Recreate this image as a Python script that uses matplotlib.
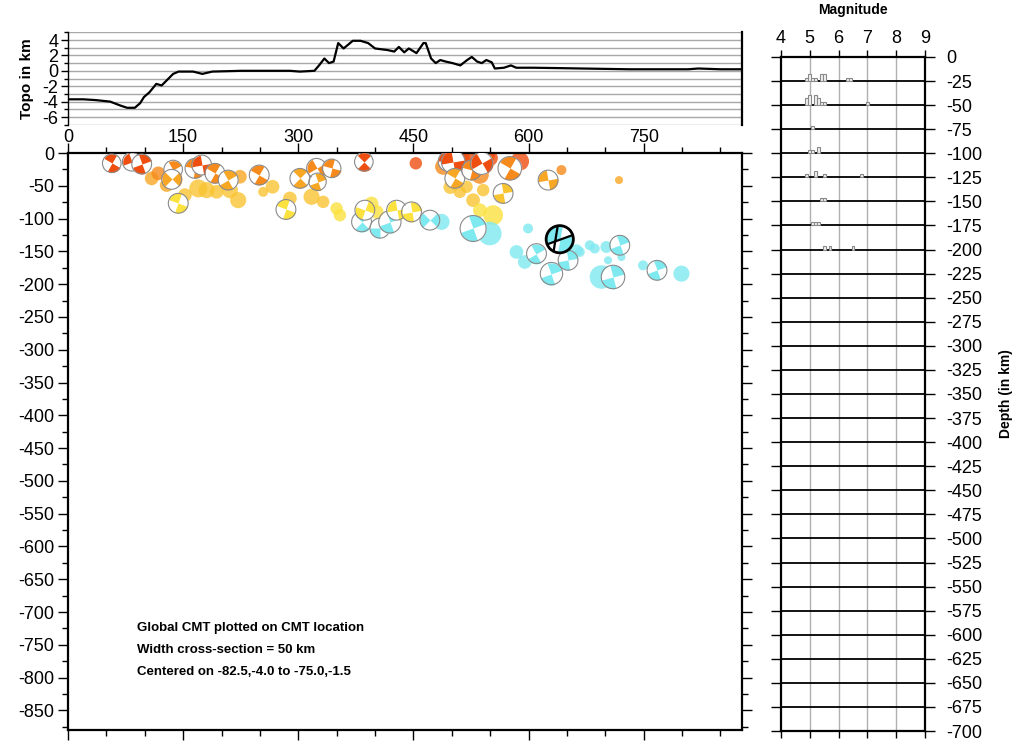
import numpy as np
import matplotlib
matplotlib.use('Agg')
import matplotlib.pyplot as plt
from matplotlib.path import Path
from matplotlib.ticker import MultipleLocator

plt.rcParams['font.family'] = ['Liberation Sans', 'DejaVu Sans']
plt.rcParams['axes.unicode_minus'] = False

# topography along the profile (km, km)
topo_x = [0, 20, 36, 55, 68, 77, 87, 94, 99, 106, 115, 122, 125, 131, 137, 144,
          163, 175, 188, 226, 260, 289, 302, 321, 327, 334, 340, 346, 352, 359,
          365, 371, 381, 391, 400, 408, 416, 425, 431, 438, 444, 454, 463, 466,
          473, 479, 485, 492, 501, 511, 520, 526, 533, 539, 545, 552, 556, 568,
          577, 584, 606, 640, 669, 700, 732, 770, 808, 821, 850, 878]
topo_z = [-3.7, -3.7, -3.8, -4.0, -4.5, -4.8, -4.8, -4.2, -3.4, -2.8, -1.7, -1.9,
          -1.6, -1.0, -0.4, -0.1, -0.1, -0.4, -0.1, 0.0, 0.0, 0.0, -0.1, 0.0,
          0.7, 1.6, 1.0, 1.2, 3.6, 2.9, 3.4, 3.9, 3.9, 3.6, 2.9, 2.8, 2.7, 2.5,
          3.1, 2.4, 2.9, 2.3, 3.6, 3.6, 1.6, 1.0, 1.4, 1.2, 1.0, 0.7, 1.4, 1.8,
          1.2, 1.0, 1.4, 1.1, 0.3, 0.4, 0.7, 0.4, 0.4, 0.35, 0.3, 0.25, 0.2, 0.2,
          0.2, 0.3, 0.2, 0.2]

# focal mechanisms: distance (km), depth (km), magnitude, nodal rotation (deg)
cmt_x = [57, 83, 96, 137, 135, 143.6, 165.4, 174.1, 191.4, 208.7, 249.1, 302.1,
         323.8, 343.4, 325.1, 385.4, 283.9, 382.4, 386.7, 406.3, 419.3, 428,
         447.5, 471.4, 495.2, 501.7, 503.9, 525.7, 538.7, 575.5, 566.8, 625.4,
         527.7, 610.3, 629.8, 651.4, 718.8, 710, 767.3]
cmt_depth = [15.7, 13.3, 16.8, 25.2, 40.2, 76.7, 23.4, 18.3, 31, 41.3, 33.6, 38.7,
             23.4, 23.4, 43.9, 13.3, 86.1, 105, 87.2, 114.7, 105, 87.2, 89.8,
             102.4, 12.7, 13.3, 38.7, 26, 15.7, 23.4, 61.6, 41.3, 115.1, 153.4,
             183.9, 163.6, 140.7, 189.1, 178.9]
cmt_mag = [5.0, 5.0, 5.1, 5.0, 5.1, 5.1, 5.1, 5.1, 5.1, 5.1, 5.1, 5.1, 5.1, 5.0,
           4.9, 5.0, 5.1, 5.1, 5.1, 5.1, 5.3, 5.1, 5.1, 5.1, 5.1, 5.4, 5.1, 5.1,
           5.3, 5.4, 5.1, 5.1, 5.6, 5.1, 5.3, 5.1, 5.1, 5.4, 5.1]
cmt_rot = [60, 110, 20, 30, 135, 70, 80, 100, 60, 30, 60, 45, 120, 75, 20, 45,
           70, 45, 160, 0, 20, 100, 10, 135, 90, 100, 60, 75, 120, 60, 10, 100,
           20, 30, 20, 10, 20, 15, 20]

# events without mechanism
ev_x = [109, 117.6, 128.5, 169.7, 180.6, 193.6, 210.9, 221.7, 224, 254.3, 266.5,
        152.3, 289, 317.3, 332.4, 349.9, 354.2, 395.4, 402, 453.1, 488.7, 510.4,
        527.7, 536.5, 553.8, 540.8, 519.1, 642.8, 717.8, 432.3, 486.6, 549.5,
        599.3, 584.2, 595, 666.7, 679.7, 686.2, 701.4, 703.5, 721, 694.9, 749.1,
        799.1, 662.4, 514.7, 549.5, 588.5, 536.5, 523.4, 545, 498]
ev_depth = [38.7, 31, 48.9, 54, 56.6, 59.2, 56.6, 71.9, 36.2, 59.2, 51.5, 64.2,
            69.3, 66.8, 74.5, 84.6, 94.8, 76.9, 89.8, 15.7, 20.9, 59.2, 71.9,
            87.2, 94.8, 56.6, 51.5, 26, 41.3, 89.8, 105, 122.8, 115.1, 150.9,
            166.2, 150.9, 140.7, 145.7, 143.3, 163.6, 158.6, 189.1, 171.3, 184,
            148.3, 7.6, 7.6, 12.7, 33.2, 3, 3, 52]
ev_mag = [4.6, 4.6, 4.6, 4.95, 4.8, 4.6, 4.8, 4.8, 4.6, 4.3, 4.6, 4.6, 4.6, 4.8,
          4.5, 4.5, 4.5, 4.6, 4.6, 4.5, 4.8, 4.5, 4.6, 4.6, 5.1, 4.5, 4.5, 4.3,
          4.14, 4.8, 4.8, 5.4, 4.3, 4.6, 4.6, 4.3, 4.3, 4.3, 4.46, 4.14, 4.14,
          5.4, 4.3, 4.8, 4.46, 4.6, 4.8, 5.0, 4.95, 4.9, 4.9, 4.6]

# highlighted mechanism
big_x, big_depth, big_mag = 640.6, 131.5, 5.7

# magnitude histogram per 25 km depth bin
hist_bin = [-25, -25, -25, -25, -25, -25, -25, -25,
            -50, -50, -50, -50, -50, -50, -50,
            -75,
            -100, -100, -100,
            -125, -125, -125, -125,
            -150, -150,
            -175, -175, -175,
            -200, -200, -200]
hist_mag = [4.9, 5.0, 5.1, 5.2, 5.4, 5.5, 6.3, 6.4,
            4.9, 5.0, 5.2, 5.3, 5.4, 5.5, 7.0,
            5.1,
            5.0, 5.1, 5.3,
            4.9, 5.2, 5.5, 6.8,
            5.4, 5.5,
            5.1, 5.2, 5.3,
            5.5, 5.7, 6.5]
hist_n = [1, 2, 1, 1, 2, 2, 1, 1,
          2, 3, 3, 2, 1, 1, 1,
          1,
          1, 1, 2,
          1, 2, 1, 1,
          1, 1,
          1, 1, 1,
          1, 1, 1]

XMAX = 878


def depth_color(d):
    if d < 20:
        return '#ee4f10'
    if d < 35:
        return '#f68a1c'
    if d < 50:
        return '#f8a724'
    if d < 75:
        return '#f9c432'
    if d < 100:
        return '#fbe23f'
    return '#7fe9f0'


def msize(m):
    d_px = 18.6 + (m - 5.0) * 12.3
    return (d_px * 0.72) ** 2


def ball_path(rot, width=90):
    # two opposite coloured quadrants of a beach ball
    verts, codes = [], []
    for p in [(1, 0), (0, 1), (-1, 0), (0, -1)]:
        verts.append(p)
        codes.append(Path.MOVETO)
    for a0 in (rot, rot + 180):
        t = np.radians(np.linspace(a0, a0 + width, 30))
        verts.append((0, 0))
        codes.append(Path.MOVETO)
        for c, s in zip(np.cos(t), np.sin(t)):
            verts.append((c, s))
            codes.append(Path.LINETO)
        verts.append((0, 0))
        codes.append(Path.CLOSEPOLY)
    return Path(verts, codes)


fig = plt.figure(figsize=(10.24, 7.46), dpi=100)

# ---------------- topo panel ----------------
ax_t = fig.add_axes([0.0664, 0.8328, 0.6582, 0.1239])
for v in range(-7, 6):
    ax_t.axhline(v, color='#a8a8a8', lw=1.0, zorder=1)
ax_t.plot(topo_x, topo_z, color='black', lw=1.6, zorder=3)
ax_t.set_xlim(0, XMAX)
ax_t.set_ylim(-7, 5)
ax_t.spines['top'].set_visible(False)
ax_t.spines['bottom'].set_visible(False)
ax_t.spines['left'].set_linewidth(1.0)
ax_t.spines['right'].set_linewidth(1.6)
ax_t.set_yticks([-6, -4, -2, 0, 2, 4])
ax_t.yaxis.set_minor_locator(MultipleLocator(1))
ax_t.tick_params(axis='y', which='major', length=5, width=1, labelsize=13, pad=2)
ax_t.tick_params(axis='y', which='minor', length=3, width=1)
ax_t.set_xticks(range(0, 751, 150))
ax_t.tick_params(axis='x', length=0, labelsize=13, pad=3)
ax_t.set_ylabel('Topo in km', fontsize=11, fontweight='bold', labelpad=6)

# ---------------- cross section ----------------
ax = fig.add_axes([0.0664, 0.0214, 0.6582, 0.7735])
ax.set_xlim(0, XMAX)
ax.set_ylim(-880, 0)

# events without mechanism
ax.scatter(ev_x, [-d for d in ev_depth], s=[msize(m) for m in ev_mag],
           c=[depth_color(d) for d in ev_depth], alpha=0.8, linewidths=0,
           zorder=2)

# focal mechanisms, drawn one by one so they stack correctly
for i in range(len(cmt_x)):
    x, y, m = cmt_x[i], -cmt_depth[i], cmt_mag[i]
    z = 3 + i * 0.01
    s = msize(m)
    ax.scatter([x], [y], s=s, marker='o', c='white', linewidths=0, zorder=z)
    ax.scatter([x], [y], s=s, marker=ball_path(cmt_rot[i]),
               c=depth_color(cmt_depth[i]), linewidths=0, zorder=z + 0.001)
    ax.scatter([x], [y], s=s, marker='o', facecolors='none',
               edgecolors='#8a8a8a', linewidths=0.8, zorder=z + 0.002)

# highlighted event
s = msize(big_mag)
ax.scatter([big_x], [-big_depth], s=s, marker='o', c='white', linewidths=0, zorder=5)
ax.scatter([big_x], [-big_depth], s=s, marker=ball_path(-100, 120),
           c='#7fe9f0', linewidths=0, zorder=5.01)
ax.scatter([big_x], [-big_depth], s=s, marker=ball_path(100, 70),
           c='#7fe9f0', linewidths=0, zorder=5.01)
nodal = Path([(-0.94, -0.34), (0.94, 0.34), (-0.2, 0.98), (-0.5, -0.87)],
             [Path.MOVETO, Path.LINETO, Path.MOVETO, Path.LINETO])
ax.scatter([big_x], [-big_depth], s=s, marker=nodal, c='black',
           linewidths=1.6, zorder=5.02)
ax.scatter([big_x], [-big_depth], s=s, marker='o', facecolors='none',
           edgecolors='black', linewidths=2.0, zorder=5.03)

for sp in ax.spines.values():
    sp.set_linewidth(1.6)
ax.xaxis.set_major_locator(MultipleLocator(150))
ax.xaxis.set_minor_locator(MultipleLocator(50))
ax.yaxis.set_major_locator(MultipleLocator(50))
ax.yaxis.set_minor_locator(MultipleLocator(25))
ax.set_yticks(range(-850, 1, 50))
ax.tick_params(which='major', direction='out', length=7, width=1,
               top=True, right=True, labelbottom=False, labelsize=13, pad=3)
ax.tick_params(which='minor', direction='out', length=4, width=1,
               top=True, right=True)

ax.text(0.102, 0.177, 'Global CMT plotted on CMT location', transform=ax.transAxes,
        fontsize=9.5, fontweight='bold', va='center')
ax.text(0.102, 0.139, 'Width cross-section = 50 km', transform=ax.transAxes,
        fontsize=9.5, fontweight='bold', va='center')
ax.text(0.102, 0.100, 'Centered on -82.5,-4.0 to -75.0,-1.5', transform=ax.transAxes,
        fontsize=9.5, fontweight='bold', va='center')

# ---------------- magnitude histogram ----------------
ax_h = fig.add_axes([0.7627, 0.0201, 0.1406, 0.9035])
ax_h.set_xlim(4, 9)
ax_h.set_ylim(-700, 0)
for m in range(5, 9):
    ax_h.axvline(m, color='#b0b0b0', lw=1.0, zorder=1)
for d in range(-675, 0, 25):
    ax_h.axhline(d, color='black', lw=1.3, zorder=2)
ax_h.bar(hist_mag, [n * 3.5 for n in hist_n], width=0.1, bottom=hist_bin,
         facecolor='#f2f2f2', edgecolor='#8a8a8a', linewidth=0.8, zorder=3)
for sp in ax_h.spines.values():
    sp.set_linewidth(1.6)
ax_h.set_xticks(range(4, 10))
ax_h.tick_params(axis='x', direction='out', length=5, width=1, top=True,
                 bottom=True, labeltop=True, labelbottom=False, labelsize=13, pad=2)
ax_h.set_yticks(range(-700, 1, 25))
ax_h.tick_params(axis='y', direction='out', length=7, width=1, left=True,
                 right=True, labelleft=False, labelright=True, labelsize=13, pad=8)
fig.text(0.833, 0.987, 'Magnitude', fontsize=10, fontweight='bold',
         ha='center', va='center')
ax_h.yaxis.set_label_position('right')
ax_h.set_ylabel('Depth (in km)', fontsize=10, fontweight='bold', labelpad=12)

fig.savefig('out.png', dpi=100)
